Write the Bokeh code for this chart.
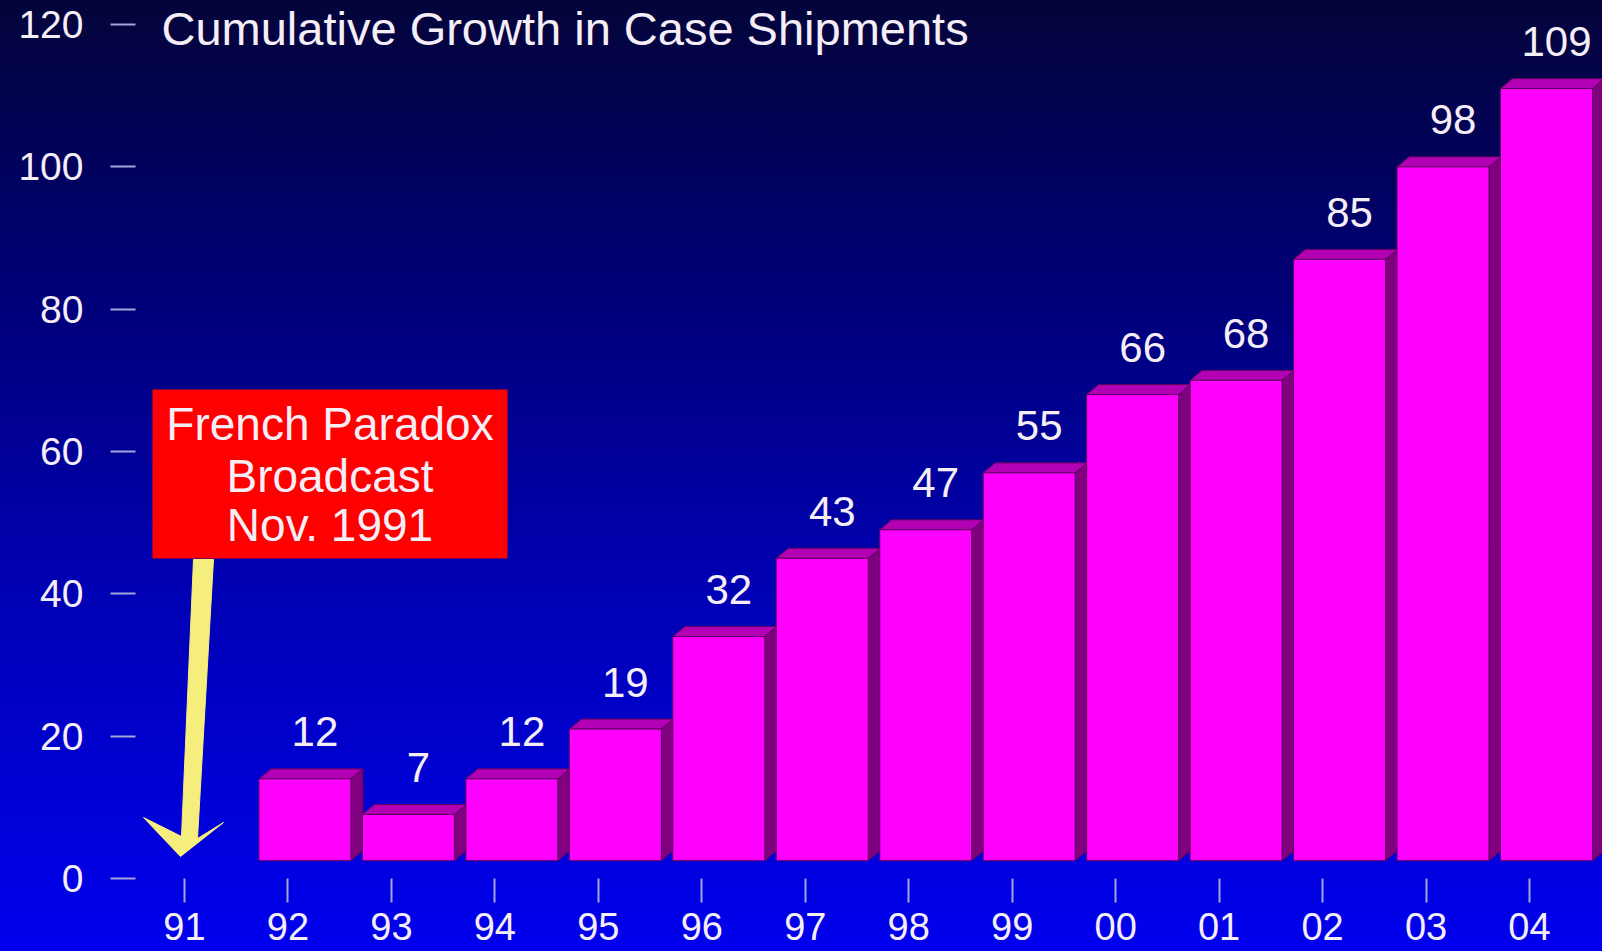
from bokeh.plotting import figure
from bokeh.models import FixedTicker, ColumnDataSource, BoxAnnotation, Label, Range1d
from bokeh.core.properties import value
from bokeh.embed import file_html
from bokeh.resources import INLINE

# ---------------- data ----------------
tick_years = ["91", "92", "93", "94", "95", "96", "97", "98", "99", "00", "01", "02", "03", "04"]
bar_years = ["92", "93", "94", "95", "96", "97", "98", "99", "00", "01", "02", "03", "04"]
case_growth = [12, 7, 12, 19, 32, 43, 47, 55, 66, 68, 85, 98, 109]
y_ticks = [0, 20, 40, 60, 80, 100, 120]
title_text = "Cumulative Growth in Case Shipments"
callout_lines = ["French Paradox", "Broadcast", "Nov. 1991"]

# ---------------- layout (pixels) ----------------
W, H = 1602, 951
FRAME_LEFT = 135
FRAME_BOTTOM = 878
X0_PX = 184
XSTEP = 103.46
TOP120_PX = 24
YSCALE = (FRAME_BOTTOM - TOP120_PX) / 120.0

x_start = -(X0_PX - FRAME_LEFT) / XSTEP
x_end = x_start + (W - FRAME_LEFT) / XSTEP
y_end = FRAME_BOTTOM / YSCALE


def px_x(px):
    return x_start + (px - FRAME_LEFT) / XSTEP


def px_y(py):
    return (FRAME_BOTTOM - py) / YSCALE


FONT = "Liberation Sans"
TXT = "#f6eef6"
TICK = "#a4a4dc"

p = figure(width=W, height=H, output_backend="svg", toolbar_location=None,
           x_range=Range1d(x_start, x_end), y_range=Range1d(0, y_end),
           min_border_left=FRAME_LEFT, min_border_right=0, min_border_top=0,
           min_border_bottom=H - FRAME_BOTTOM)
p.background_fill_alpha = 0
p.border_fill_alpha = 0
p.outline_line_color = None
p.grid.visible = False
p.styles = {"background": "linear-gradient(to bottom, #04043a 0%, #000076 30%, #0000b0 60%, #0000ee 100%)"}

# axes
p.yaxis.ticker = FixedTicker(ticks=y_ticks)
p.yaxis.axis_line_color = None
p.yaxis.major_tick_in = 0
p.yaxis.major_tick_out = 25
p.yaxis.major_tick_line_color = TICK
p.yaxis.major_tick_line_width = 2
p.yaxis.minor_tick_line_color = None
p.yaxis.major_label_standoff = 27
p.yaxis.major_label_text_font_size = "39px"
p.yaxis.major_label_text_color = TXT
p.yaxis.major_label_text_font = FONT

p.xaxis.ticker = FixedTicker(ticks=list(range(len(tick_years))))
p.xaxis.major_label_overrides = {i: y for i, y in enumerate(tick_years)}
p.xaxis.axis_line_color = None
p.xaxis.major_tick_in = 0
p.xaxis.major_tick_out = 24
p.xaxis.major_tick_line_color = TICK
p.xaxis.major_tick_line_width = 2
p.xaxis.minor_tick_line_color = None
p.xaxis.major_label_standoff = 10
p.xaxis.major_label_text_font_size = "38px"
p.xaxis.major_label_text_color = TXT
p.xaxis.major_label_text_font = FONT

# 3-D bars
SHIFT = 17 / XSTEP
BW = 92 / XSTEP
DX = 12 / XSTEP
DY = 10 / YSCALE
FLOOR = 2.5
TOPOFF = 2.0

idx = [tick_years.index(y) for y in bar_years]
lefts = [i + SHIFT - BW / 2 for i in idx]
rights = [i + SHIFT + BW / 2 for i in idx]
tops = [v + TOPOFF for v in case_growth]
bottoms = [FLOOR for _ in case_growth]

side_xs = [[r, r + DX, r + DX, r] for r in rights]
side_ys = [[b, b + DY, t + DY, t] for b, t in zip(bottoms, tops)]
cap_xs = [[l, l + DX, r + DX, r] for l, r in zip(lefts, rights)]
cap_ys = [[t, t + DY, t + DY, t] for t in tops]

EDGE = "#5a005a"
p.patches(side_xs, side_ys, fill_color="#80007f", line_color=EDGE, line_width=1)
p.patches(cap_xs, cap_ys, fill_color="#b400b4", line_color=EDGE, line_width=1)
p.quad(left=lefts, right=rights, bottom=bottoms, top=tops,
       fill_color="#ff00ff", line_color=EDGE, line_width=1)

# value labels
lab_src = ColumnDataSource(dict(
    x=[i + SHIFT + 10 / XSTEP for i in idx],
    y=[t + DY + 37 / YSCALE for t in tops],
    txt=[str(v) for v in case_growth]))
p.text(x="x", y="y", text="txt", source=lab_src, text_align="center",
       text_baseline="middle", text_font=value(FONT), text_font_size="42px",
       text_color=TXT)

# arrow (annotation shape, pixel design converted to data)
arrow_px = [(193, 559), (213, 559), (197, 838), (223, 822), (180, 856), (143, 817), (181, 836)]
p.patch([px_x(a) for a, b in arrow_px], [px_y(b) for a, b in arrow_px],
        fill_color="#f6ee7c", line_color="#f6ee7c", line_width=1)

# callout box
p.add_layout(BoxAnnotation(left=px_x(152), right=px_x(507), top=px_y(389), bottom=px_y(558),
                           fill_color="#fe0000", fill_alpha=1.0, line_color=None))
for line, ypx in zip(callout_lines, [423, 475, 524]):
    p.add_layout(Label(x=px_x(329.5), y=px_y(ypx), text=line, text_align="center",
                       text_baseline="middle", text_font=FONT, text_font_size="46px",
                       text_color=TXT))

# title
p.add_layout(Label(x=px_x(161), y=px_y(28), text=title_text, text_align="left",
                   text_baseline="middle", text_font=FONT, text_font_size="47px",
                   text_color=TXT))

open("out.html", "w").write(file_html(p, INLINE))
